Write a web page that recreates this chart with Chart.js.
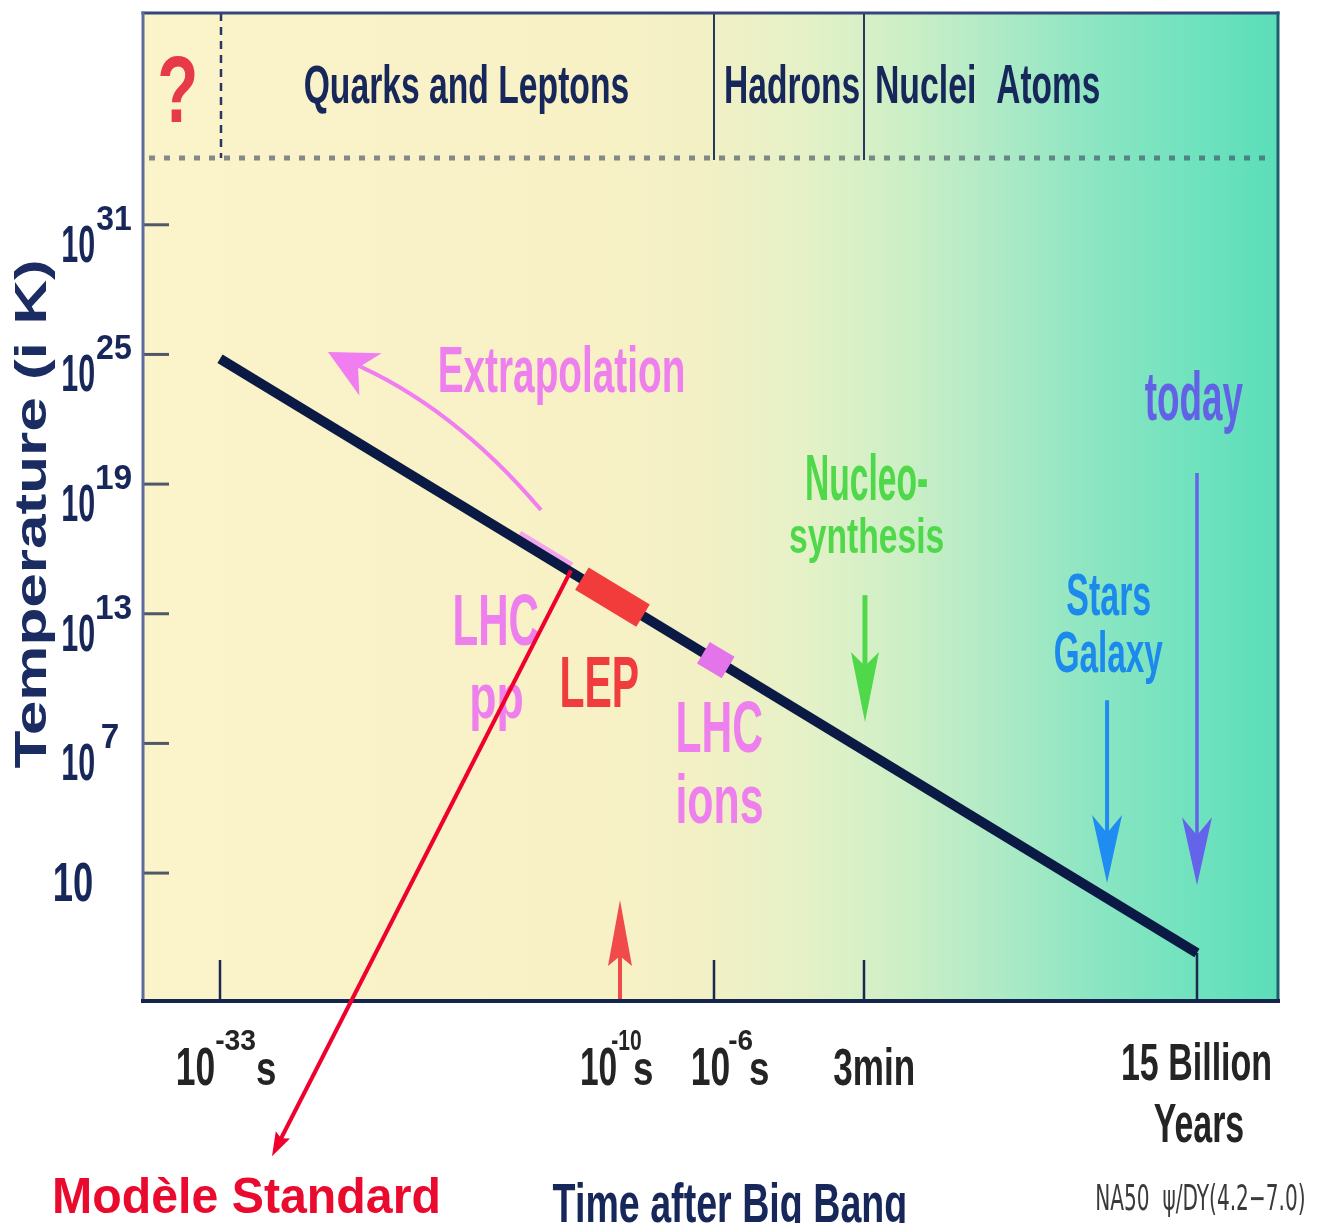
<!DOCTYPE html>
<html>
<head>
<meta charset="utf-8">
<title>Temperature vs time after Big Bang</title>
<script src="https://cdn.jsdelivr.net/npm/chart.js@4.4.1/dist/chart.umd.min.js"></script>
<style>
  html, body { margin: 0; padding: 0; background: #ffffff; }
  canvas { display: block; }
</style>
</head>
<body>
<canvas id="cosmo" width="1319" height="1223" style="width:1319px;height:1223px"></canvas>
<script>
// ---------- data (time as log10 of seconds, temperature as log10 of kelvin) ----------
const timeTickValues = [-33, -10, -6, 2.255, 17.675];
const timeTickLabels = [['10', '-33', 's'], ['10', '-10', 's'], ['10', '-6', 's'], ['3min'], ['15 Billion', 'Years']];
const tempTickExponents = [1, 7, 13, 19, 25, 31];

const coolingLogTime = [-33, 17.675];
const coolingLogTemp = [24.8, -2.7];

const lhcPpLogTime = [-15.75, -12.76];
const lhcPpLogTemp = [16.73, 15.26];
const lepLogTime = [-12.19, -9.02];
const lepLogTemp = [14.63, 12.91];
const lhcIonsLogTime = [-6.45, -5.22];
const lhcIonsLogTemp = [11.19, 10.51];

// downward event arrows: nucleosynthesis, stars/galaxy, today
const eventArrowTime = [2.3, 13.51, 17.675];
const eventArrowFrom = [13.86, 9.0, 19.51];
const eventArrowTo = [7.99, 0.54, 0.44];

// LEP upward arrow on the time axis
const lepArrowTime = -10;
const lepArrowTip = -0.25;

// extrapolation curve (start, control, tip)
const extrapLogTime = [-14.54, -19.66, -26.79];
const extrapLogTemp = [17.80, 22.66, 25.11];

// Standard Model pointer (start on the curve, tip below the axis)
const smLogTime = [-12.82, -30.01];
const smLogTemp = [15.0, -12.10];

// top band separator level
const eraBandLogTemp = 34.09;

// ---------- a schematic time axis: piecewise-linear between the labelled epochs ----------
const timeTickFractions = [0.06784, 0.42026, 0.50308, 0.63524, 0.92863];
const timelineStops = timeTickValues.map((v, i) => [v, timeTickFractions[i]]);

const BaseLinear = Chart.LinearScale || Chart.registry.getScale('linear');
class TimelineScale extends BaseLinear {
  _seg(v) {
    const s = timelineStops;
    let i = 0;
    while (i < s.length - 2 && v > s[i + 1][0]) i++;
    return i;
  }
  _toDecimal(v) {
    const s = timelineStops, i = this._seg(v);
    const [v0, f0] = s[i], [v1, f1] = s[i + 1];
    return f0 + (v - v0) * (f1 - f0) / (v1 - v0);
  }
  getPixelForValue(v) {
    if (v === null || v === undefined || isNaN(v)) return NaN;
    return this.getPixelForDecimal(this._toDecimal(v));
  }
  getValueForPixel(p) {
    const d = this.getDecimalForPixel(p), s = timelineStops;
    let i = 0;
    while (i < s.length - 2 && d > s[i + 1][1]) i++;
    const [v0, f0] = s[i], [v1, f1] = s[i + 1];
    return v0 + (d - f0) * (v1 - v0) / (f1 - f0);
  }
}
TimelineScale.id = 'timeline';
TimelineScale.defaults = BaseLinear.defaults;
Chart.register(TimelineScale);

// ---------- drawing helpers ----------
const SANS = "'Liberation Sans', Arial, Helvetica, sans-serif";
const COND = "'DejaVu Sans Condensed', 'Liberation Sans Narrow', 'Liberation Sans', sans-serif";
const NAVY = '#17275a';

// fills text so that its ink fits the box [left, right, top, baseline]
function fitText(ctx, str, box, color, weight, family) {
  const [l, r, top, base] = box;
  ctx.save();
  ctx.font = (weight || 'bold') + ' 100px ' + (family || SANS);
  ctx.textAlign = 'left';
  ctx.textBaseline = 'alphabetic';
  const m = ctx.measureText(str);
  const inkW = m.actualBoundingBoxLeft + m.actualBoundingBoxRight;
  const sx = (r - l) / inkW;
  const sy = (base - top) / m.actualBoundingBoxAscent;
  ctx.translate(l + m.actualBoundingBoxLeft * sx, base);
  ctx.scale(sx, sy);
  ctx.fillStyle = color;
  ctx.fillText(str, 0, 0);
  ctx.restore();
}

function arrowHead(ctx, tx, ty, ang, len, w, notch, color) {
  ctx.save();
  ctx.translate(tx, ty);
  ctx.rotate(ang);
  ctx.beginPath();
  ctx.moveTo(0, 0);
  ctx.lineTo(-len, -w / 2);
  ctx.lineTo(-len + notch, 0);
  ctx.lineTo(-len, w / 2);
  ctx.closePath();
  ctx.fillStyle = color;
  ctx.fill();
  ctx.restore();
}

function arrow(ctx, x0, y0, x1, y1, color, shaftW, len, w, notch) {
  const ang = Math.atan2(y1 - y0, x1 - x0);
  const bx = x1 - Math.cos(ang) * (len - notch - 1);
  const by = y1 - Math.sin(ang) * (len - notch - 1);
  ctx.save();
  ctx.strokeStyle = color;
  ctx.lineWidth = shaftW;
  ctx.lineCap = 'butt';
  ctx.beginPath();
  ctx.moveTo(x0, y0);
  ctx.lineTo(bx, by);
  ctx.stroke();
  ctx.restore();
  arrowHead(ctx, x1, y1, ang, len, w, notch, color);
}

const decor = {
  id: 'decor',
  beforeDraw(chart) {
    const { ctx, chartArea: a } = chart;
    ctx.save();
    ctx.fillStyle = '#ffffff';
    ctx.fillRect(0, 0, chart.width, chart.height);
    const g = ctx.createLinearGradient(a.left, 0, a.right, 0);
    g.addColorStop(0.00, '#fbf3ca');
    g.addColorStop(0.40, '#f8f1c6');
    g.addColorStop(0.49, '#f3f0c5');
    g.addColorStop(0.58, '#e6f1c7');
    g.addColorStop(0.67, '#cdefc6');
    g.addColorStop(0.755, '#aeeac6');
    g.addColorStop(0.843, '#8ae5c2');
    g.addColorStop(0.93, '#6fe2be');
    g.addColorStop(1.00, '#5adeb8');
    ctx.fillStyle = g;
    ctx.fillRect(a.left, a.top, a.right - a.left, a.bottom - a.top);
    ctx.restore();
  },
  beforeDatasetsDraw(chart) {
    const { ctx, chartArea: a } = chart;
    const xs = chart.scales.x, ys = chart.scales.y;
    const bandY = ys.getPixelForValue(eraBandLogTemp);
    ctx.save();

    // era band: dotted separator
    ctx.strokeStyle = 'rgba(60,72,95,0.62)';
    ctx.lineWidth = 5;
    ctx.setLineDash([6, 9]);
    ctx.beginPath();
    ctx.moveTo(a.left + 6, bandY);
    ctx.lineTo(a.right - 4, bandY);
    ctx.stroke();

    // era band: dividers
    ctx.strokeStyle = '#2a3560';
    ctx.lineWidth = 2.5;
    ctx.setLineDash([8, 6]);
    let x = xs.getPixelForValue(timeTickValues[0]) + 1;
    ctx.beginPath(); ctx.moveTo(x, a.top); ctx.lineTo(x, bandY); ctx.stroke();
    ctx.setLineDash([]);
    ctx.lineWidth = 2;
    [timeTickValues[2], timeTickValues[3]].forEach(v => {
      const px = xs.getPixelForValue(v);
      ctx.beginPath(); ctx.moveTo(px, a.top); ctx.lineTo(px, bandY + 2); ctx.stroke();
    });

    // era labels
    fitText(ctx, '?', [160, 195, 55, 122], '#e63a48');
    fitText(ctx, 'Quarks and Leptons', [305, 628, 64, 103], NAVY);
    fitText(ctx, 'Hadrons', [726, 859, 64, 103], NAVY);
    fitText(ctx, 'Nuclei', [877, 974, 64, 103], NAVY);
    fitText(ctx, 'Atoms', [997, 1099, 64, 103], NAVY);

    // temperature ticks
    ctx.strokeStyle = '#505868';
    ctx.lineWidth = 3;
    tempTickExponents.forEach(e => {
      const py = ys.getPixelForValue(e);
      ctx.beginPath(); ctx.moveTo(a.left, py); ctx.lineTo(a.left + 26, py); ctx.stroke();
    });

    // time ticks
    ctx.strokeStyle = '#1c2850';
    ctx.lineWidth = 2.5;
    [0, 2, 3].forEach(i => {
      const px = xs.getPixelForValue(timeTickValues[i]);
      ctx.beginPath(); ctx.moveTo(px, a.bottom); ctx.lineTo(px, a.bottom - 41); ctx.stroke();
    });
    const lastT = timeTickValues[4];
    const endX = xs.getPixelForValue(lastT);
    ctx.beginPath();
    ctx.moveTo(endX, a.bottom);
    ctx.lineTo(endX, ys.getPixelForValue(coolingLogTemp[1]));
    ctx.stroke();

    // extrapolation curve
    const p0x = xs.getPixelForValue(extrapLogTime[0]), p0y = ys.getPixelForValue(extrapLogTemp[0]);
    const cx = xs.getPixelForValue(extrapLogTime[1]), cy = ys.getPixelForValue(extrapLogTemp[1]);
    const tx = xs.getPixelForValue(extrapLogTime[2]), ty = ys.getPixelForValue(extrapLogTemp[2]);
    const pink = '#f07ef0';
    ctx.strokeStyle = pink;
    ctx.lineWidth = 4;
    ctx.beginPath();
    ctx.moveTo(p0x, p0y);
    ctx.quadraticCurveTo(cx, cy, tx + 20, ty + 9);
    ctx.stroke();
    arrowHead(ctx, tx, ty, Math.atan2(ty - cy, tx - cx) + 0.08, 48, 48, 14, pink);

    ctx.restore();
  },
  afterDatasetsDraw(chart) {
    const { ctx, chartArea: a } = chart;
    const xs = chart.scales.x, ys = chart.scales.y;
    ctx.save();

    // frame
    ctx.lineCap = 'square';
    ctx.lineWidth = 3;
    ctx.strokeStyle = '#34467a';
    ctx.beginPath(); ctx.moveTo(a.left, a.top); ctx.lineTo(a.right, a.top); ctx.stroke();
    ctx.strokeStyle = '#5d6c9c';
    ctx.beginPath(); ctx.moveTo(a.left, a.top); ctx.lineTo(a.left, a.bottom); ctx.stroke();
    ctx.strokeStyle = '#1f5d6a';
    ctx.beginPath(); ctx.moveTo(a.right, a.top); ctx.lineTo(a.right, a.bottom); ctx.stroke();
    ctx.strokeStyle = '#14264e';
    ctx.lineWidth = 4;
    ctx.beginPath(); ctx.moveTo(a.left, a.bottom); ctx.lineTo(a.right, a.bottom); ctx.stroke();
    ctx.lineCap = 'butt';

    // LEP arrow on the axis
    const lx = xs.getPixelForValue(lepArrowTime);
    arrow(ctx, lx, a.bottom - 2, lx, ys.getPixelForValue(lepArrowTip), '#f04a4a', 4, 66, 24, 10);

    // event arrows
    const evColors = ['#4fd84a', '#1e8cf0', '#6464ea'];
    const evShaft = [5, 4, 3.5];
    const evHead = [[70, 28, 14], [68, 30, 18], [68, 30, 18]];
    eventArrowTime.forEach((t, i) => {
      const px = xs.getPixelForValue(t);
      arrow(ctx, px, ys.getPixelForValue(eventArrowFrom[i]), px, ys.getPixelForValue(eventArrowTo[i]),
        evColors[i], evShaft[i], evHead[i][0], evHead[i][1], evHead[i][2]);
    });

    // annotations
    const pinkTxt = '#ee80ee';
    fitText(ctx, 'Extrapolation', [440, 683, 345, 392], pinkTxt);
    fitText(ctx, 'LHC', [455, 538, 595, 645], pinkTxt);
    fitText(ctx, 'pp', [472, 522, 684, 718], pinkTxt);
    fitText(ctx, 'LEP', [562, 638, 657, 707], '#f03c3c');
    fitText(ctx, 'LHC', [678, 762, 702, 752], pinkTxt);
    fitText(ctx, 'ions', [678, 762, 773, 823], pinkTxt);
    fitText(ctx, 'Nucleo-', [807, 927, 453, 500], '#4fd84a');
    fitText(ctx, 'synthesis', [790, 943, 517, 553], '#4fd84a');
    fitText(ctx, 'today', [1145, 1243, 370, 420], '#6262e6');
    fitText(ctx, 'Stars', [1067, 1150, 573, 615], '#1c8aec');
    fitText(ctx, 'Galaxy', [1055, 1163, 630, 672], '#1c8aec');

    // temperature tick labels
    tempTickExponents.forEach(e => {
      const py = ys.getPixelForValue(e);
      if (e === 1) {
        fitText(ctx, '10', [55, 92, py - 11, py + 28], NAVY);
      } else {
        fitText(ctx, '10', [63, 94, py + 1, py + 37], NAVY);
        const sup = String(e);
        const l = sup.length === 1 ? 102 : 97;
        const w = sup.length === 1 ? 16 : 34;
        fitText(ctx, sup, [l, l + w, py - 19, py + 5], NAVY);
      }
    });

    // temperature axis title
    ctx.save();
    ctx.translate(46, 768);
    ctx.rotate(-Math.PI / 2);
    fitText(ctx, 'Temperature (i K)', [0, 506, -33, 0], '#1a2c62');
    ctx.restore();

    // time tick labels
    const timeLabelBoxes = [
      [[-42, -6, 1047, 1085], [-4, 35, 1030, 1050], [37, 55, 1059, 1085]],
      [[-38, -4, 1047, 1085], [-8, 21, 1030, 1050], [14, 32, 1059, 1085]],
      [[-21, 15, 1047, 1085], [15, 38, 1030, 1050], [36, 54, 1059, 1085]],
      [[-30, 49, 1047, 1085]],
      [[-74, 73, 1042, 1080], [-43, 46, 1104, 1142]]
    ];
    timeTickValues.forEach((v, i) => {
      const px = xs.getPixelForValue(v);
      timeTickLabels[i].forEach((part, j) => {
        const b = timeLabelBoxes[i][j];
        fitText(ctx, part, [px + b[0], px + b[1], b[2], b[3]], '#242424');
      });
    });

    // axis caption and notes
    fitText(ctx, 'Time after Big Bang', [553, 905, 1182, 1222], NAVY);
    fitText(ctx, 'NA50  \u03C8/DY(4.2\u22127.0)', [1097, 1304, 1183, 1210], '#3a3a3a', 'normal', COND);
    fitText(ctx, 'Mod\u00E8le Standard', [55, 438, 1176, 1213], '#ea0a2e', 'bold', SANS);

    // Standard Model pointer
    arrow(ctx,
      xs.getPixelForValue(smLogTime[0]), ys.getPixelForValue(smLogTemp[0]),
      xs.getPixelForValue(smLogTime[1]), ys.getPixelForValue(smLogTemp[1]),
      '#f0002c', 4, 24, 16, 4);

    ctx.restore();
  }
};

function segment(label, xs, ys, color, width, order) {
  return {
    label,
    data: xs.map((x, i) => ({ x, y: ys[i] })),
    borderColor: color,
    backgroundColor: color,
    borderWidth: width,
    borderCapStyle: 'butt',
    pointRadius: 0,
    fill: false,
    tension: 0,
    order
  };
}

new Chart(document.getElementById('cosmo').getContext('2d'), {
  type: 'line',
  data: {
    datasets: [
      segment('LEP', lepLogTime, lepLogTemp, '#f23b3b', 26, 1),
      segment('LHC ions', lhcIonsLogTime, lhcIonsLogTemp, '#e474ea', 25, 1),
      segment('Cooling', coolingLogTime, coolingLogTemp, '#0b1a45', 10, 2),
      segment('LHC pp', lhcPpLogTime, lhcPpLogTemp, '#f2a6ee', 5, 3)
    ]
  },
  options: {
    responsive: false,
    animation: false,
    devicePixelRatio: 1,
    events: [],
    layout: { padding: { left: 143, right: 41, top: 13, bottom: 222 } },
    plugins: { legend: { display: false }, tooltip: { enabled: false } },
    scales: {
      x: { type: 'timeline', min: -37.43, max: 21.43, display: false },
      y: { type: 'linear', min: -4.92, max: 40.80, display: false }
    }
  },
  plugins: [decor]
});
</script>
</body>
</html>
